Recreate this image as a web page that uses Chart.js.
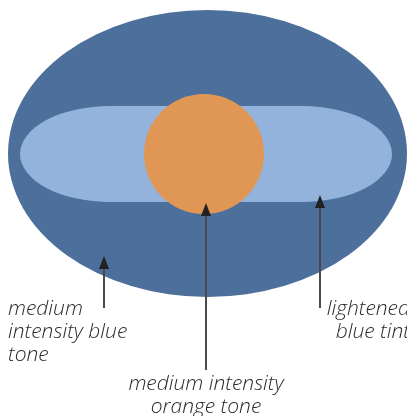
<!DOCTYPE html>
<html>
<head>
<meta charset="utf-8">
<script src="https://cdn.jsdelivr.net/npm/chart.js@4"></script>
<style>
    html, body { margin: 0; padding: 0; background: #fff; }
    #wrap { width: 407px; height: 416px; position: relative; }
</style>
</head>
<body>
<div id="wrap"><canvas id="diagram"></canvas></div>
<script>
// shapes (units = layout px, y grows downward)
const shapeNames = ['outer', 'band', 'core'];
const shapeCenterX = [207.5, 206, 204];
const shapeCenterY = [153.5, 154, 154];
const shapeRadiusX = [199.5, 186, 60];
const shapeRadiusY = [143.5, 48, 60];
const shapeEndRadius = [null, 90, null]; // band: flat sides, elliptical ends
const shapeColors = ['#4c6f9b', '#93b3dd', '#e09756'];

// callout arrows
const arrowX = [104, 206, 320];
const arrowTipY = [256, 203, 195];
const arrowTailY = [308, 370, 308];

// callout labels
const labelLines = [
    ['medium', 'intensity blue', 'tone'],
    ['medium intensity', 'orange tone'],
    ['lightened', 'blue tint']
];
const labelX = [8, 206, 410];
const labelY = [315, 390, 315];
const labelAlign = ['left', 'center', 'right'];
const lineHeight = 23;

const diagramPlugin = {
    id: 'diagram',
    beforeDatasetsDraw(chart) {
        const { ctx, scales: { x, y } } = chart;
        ctx.save();
        shapeNames.forEach((name, i) => {
            const cx = x.getPixelForValue(shapeCenterX[i]);
            const cy = y.getPixelForValue(shapeCenterY[i]);
            const rx = Math.abs(x.getPixelForValue(shapeCenterX[i] + shapeRadiusX[i]) - cx);
            const ry = Math.abs(y.getPixelForValue(shapeCenterY[i] + shapeRadiusY[i]) - cy);
            ctx.fillStyle = shapeColors[i];
            ctx.beginPath();
            if (shapeEndRadius[i]) {
                const er = Math.abs(x.getPixelForValue(shapeCenterX[i] + shapeEndRadius[i]) - cx);
                const off = rx - er;
                ctx.ellipse(cx + off, cy, er, ry, 0, -Math.PI / 2, Math.PI / 2);
                ctx.ellipse(cx - off, cy, er, ry, 0, Math.PI / 2, Math.PI * 1.5);
            } else {
                ctx.ellipse(cx, cy, rx, ry, 0, 0, Math.PI * 2);
            }
            ctx.closePath();
            ctx.fill();
        });
        ctx.restore();
    },
    afterDatasetsDraw(chart) {
        const { ctx, scales: { x, y } } = chart;
        ctx.save();
        // arrow heads
        ctx.fillStyle = '#222';
        arrowX.forEach((ax, i) => {
            const px = x.getPixelForValue(ax);
            const py = y.getPixelForValue(arrowTipY[i]);
            ctx.beginPath();
            ctx.moveTo(px, py);
            ctx.lineTo(px + 5, py + 13);
            ctx.lineTo(px - 5, py + 13);
            ctx.closePath();
            ctx.fill();
        });
        // labels
        ctx.fillStyle = '#2a2a2a';
        ctx.font = 'italic 300 21px "Open Sans"';
        ctx.textBaseline = 'alphabetic';
        labelLines.forEach((lines, i) => {
            ctx.textAlign = labelAlign[i];
            lines.forEach((line, j) => {
                ctx.fillText(line, x.getPixelForValue(labelX[i]), y.getPixelForValue(labelY[i] + j * lineHeight));
            });
        });
        ctx.restore();
    }
};

const arrowDatasets = arrowX.map((ax, i) => ({
    data: [{ x: ax, y: arrowTailY[i] }, { x: ax, y: arrowTipY[i] + 10 }],
    showLine: true,
    borderColor: '#4a4a4a',
    borderWidth: 2,
    pointRadius: 0
}));

new Chart(document.getElementById('diagram'), {
    type: 'scatter',
    data: { datasets: arrowDatasets },
    options: {
        responsive: true,
        maintainAspectRatio: false,
        animation: false,
        layout: { padding: 0 },
        plugins: { legend: { display: false }, tooltip: { enabled: false } },
        scales: {
            x: { type: 'linear', min: 0, max: 407, display: false },
            y: { type: 'linear', min: 0, max: 416, reverse: true, display: false }
        }
    },
    plugins: [diagramPlugin]
});
</script>
</body>
</html>
